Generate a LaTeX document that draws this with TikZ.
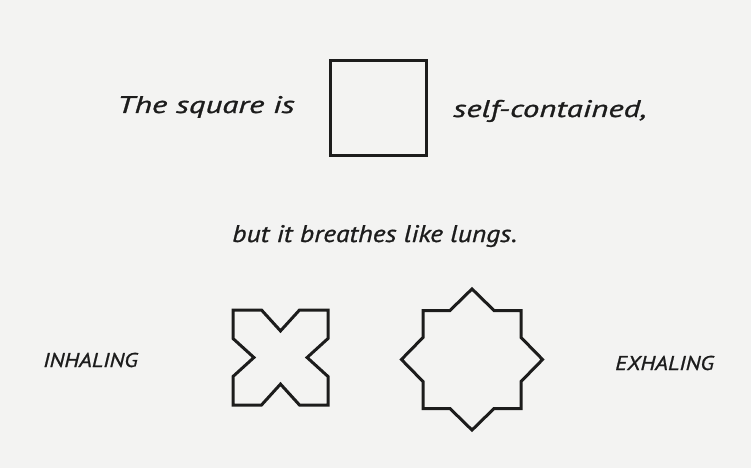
\documentclass[tikz,border=0pt]{standalone}
\usepackage{fontspec}
\newfontfamily\handfont[FakeStretch=1.15,FakeBold=1]{PT Sans}
\definecolor{Paper}{HTML}{F3F3F2}
\definecolor{Ink}{HTML}{1C1C1C}
\usepackage{tikz}

% one breathing figure: #1 centre, #2 half side, #3 arm, #4 notch
\newcommand{\breathe}[4]{%
  \draw[figline,shift={(#1)},scale=#2] (-1,-1) -- (-#3,-1) -- (0,-#4) -- (#3,-1) -- (1,-1)
    -- (1,-#3) -- (#4,0) -- (1,#3) -- (1,1) -- (#3,1) -- (0,#4) -- (-#3,1) -- (-1,1)
    -- (-1,#3) -- (-#4,0) -- (-1,-#3) -- cycle;}

\begin{document}
\begin{tikzpicture}[x=1pt,y=-1pt,
  figline/.style={draw=Ink,line width=3pt,line join=miter},
  words/.style={inner sep=0pt,anchor=base west,text=Ink,font=\handfont\itshape\fontsize{24}{28}\selectfont},
  wide/.style={words,xscale=1.19,transform shape},
  caps/.style={inner sep=0pt,anchor=base west,text=Ink,font=\handfont\itshape\fontsize{20}{24}\selectfont}]
\fill[Paper] (0,0) rectangle (751,468);
\useasboundingbox (0,0) rectangle (751,468);
% top line
\node[wide] (lead) at (117,113) {The square is};
\draw[figline] (330,61) rectangle (426,155);
\node[wide] (tail) at (453,117) {self-contained,};
\node[words] (lungs) at (232,242) {but it breathes like lungs.};
% the two figures
\node[caps] (inhale) at (43,367) {INHALING};
\breathe{280.5,357.5}{47.5}{0.4}{0.56}
\breathe{472,359.5}{49}{0.45}{1.44}
\node[caps] (exhale) at (615,370) {EXHALING};
\end{tikzpicture}
\end{document}
